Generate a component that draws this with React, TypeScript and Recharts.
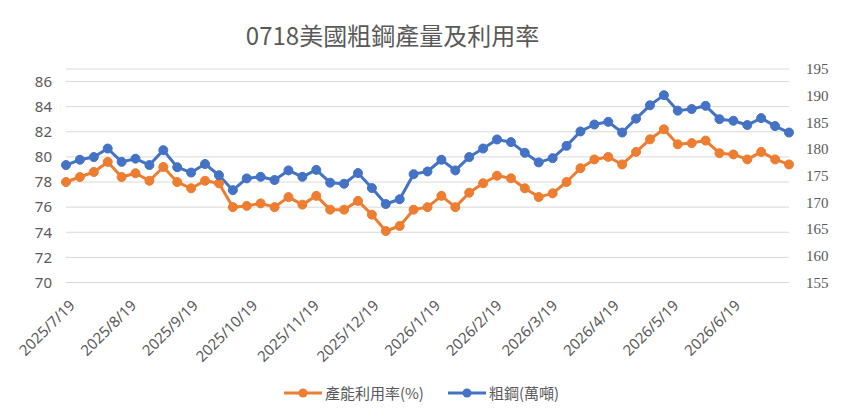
import React from 'react';
import { LineChart, Line, XAxis, YAxis, CartesianGrid, Legend } from 'recharts';

const dates = [
  '2025/7/19', '2025/7/26', '2025/8/2', '2025/8/9', '2025/8/16', '2025/8/23', '2025/8/30',
  '2025/9/6', '2025/9/13', '2025/9/20', '2025/9/27', '2025/10/4', '2025/10/11', '2025/10/18',
  '2025/10/25', '2025/11/1', '2025/11/8', '2025/11/15', '2025/11/22', '2025/11/29', '2025/12/6',
  '2025/12/13', '2025/12/20', '2025/12/27', '2026/1/3', '2026/1/10', '2026/1/17', '2026/1/24',
  '2026/1/31', '2026/2/7', '2026/2/14', '2026/2/21', '2026/2/28', '2026/3/7', '2026/3/14',
  '2026/3/21', '2026/3/28', '2026/4/4', '2026/4/11', '2026/4/18', '2026/4/25', '2026/5/2',
  '2026/5/9', '2026/5/16', '2026/5/23', '2026/5/30', '2026/6/6', '2026/6/13', '2026/6/20',
  '2026/6/27', '2026/7/4', '2026/7/11', '2026/7/18',
];

const utilization = [
  78.0, 78.4, 78.8, 79.6, 78.4, 78.7, 78.1, 79.2, 78.0, 77.5, 78.1, 77.9, 76.0, 76.1,
  76.3, 76.0, 76.8, 76.2, 76.9, 75.8, 75.8, 76.5, 75.4, 74.1, 74.5, 75.8, 76.0, 76.9,
  76.0, 77.15, 77.9, 78.5, 78.3, 77.5, 76.8, 77.1, 78.0, 79.1, 79.8, 80.0, 79.4, 80.4,
  81.4, 82.2, 81.0, 81.1, 81.3, 80.3, 80.2, 79.8, 80.4, 79.8, 79.4,
];

const crudeSteel = [
  177.0, 178.0, 178.5, 180.1, 177.6, 178.2, 177.0, 179.8, 176.6, 175.6, 177.2, 175.1, 172.3, 174.5,
  174.8, 174.2, 176.0, 174.8, 176.1, 173.7, 173.5, 175.5, 172.7, 169.7, 170.6, 175.3, 175.8, 178.0,
  176.0, 178.5, 180.1, 181.8, 181.3, 179.3, 177.5, 178.3, 180.6, 183.3, 184.6, 185.1, 183.1, 185.7,
  188.2, 190.1, 187.2, 187.5, 188.1, 185.6, 185.3, 184.5, 185.8, 184.3, 183.1,
];

const monthTicks = [
  '2025/7/19', '2025/8/19', '2025/9/19', '2025/10/19', '2025/11/19', '2025/12/19',
  '2026/1/19', '2026/2/19', '2026/3/19', '2026/4/19', '2026/5/19', '2026/6/19',
];

const leftTicks = [70, 72, 74, 76, 78, 80, 82, 84, 86];
const rightTicks = [155, 160, 165, 170, 175, 180, 185, 190, 195];

const titleText = '0718美國粗鋼產量及利用率';
const utilName = '產能利用率(%)';
const steelName = '粗鋼(萬噸)';

const ORANGE = '#ED7D31';
const BLUE = '#4472C4';
const TEXT = '#595959';

const toDay = (s: string) => {
  const [y, m, d] = s.split('/').map(Number);
  return Date.UTC(y, m - 1, d) / 86400000;
};

const data = dates.map((d, i) => ({
  t: toDay(d),
  date: d,
  util: utilization[i],
  steel: crudeSteel[i],
}));

const tickValues = monthTicks.map(toDay);
const tickLabel: Record<number, string> = {};
monthTicks.forEach((m) => {
  tickLabel[toDay(m)] = m;
});

const DateTick = (props: any) => {
  const { x, y, payload } = props;
  const ax = x + 7;
  const ay = y + 21;
  return (
    <text
      x={ax}
      y={ay}
      transform={`rotate(-45 ${ax} ${ay})`}
      textAnchor="end"
      dominantBaseline="middle"
      fill={TEXT}
      fontSize={15}
      fontFamily="'Noto Sans', sans-serif"
    >
      {tickLabel[payload.value] ?? ''}
    </text>
  );
};

const LegendIcon = ({ color }: { color: string }) => (
  <svg width={38} height={12} style={{ display: 'block' }}>
    <line x1={0} y1={6} x2={38} y2={6} stroke={color} strokeWidth={3} />
    <circle cx={19} cy={6} r={4.5} fill={color} />
  </svg>
);

const renderLegend = () => (
  <div
    style={{
      display: 'flex',
      justifyContent: 'center',
      alignItems: 'center',
      fontFamily: "'Noto Sans CJK TC', sans-serif",
      fontSize: 15,
      color: TEXT,
      lineHeight: '20px',
    }}
  >
    <div style={{ display: 'flex', alignItems: 'center', marginRight: 24 }}>
      <LegendIcon color={ORANGE} />
      <span style={{ marginLeft: 3 }}>{utilName}</span>
    </div>
    <div style={{ display: 'flex', alignItems: 'center' }}>
      <LegendIcon color={BLUE} />
      <span style={{ marginLeft: 3 }}>{steelName}</span>
    </div>
  </div>
);

export default function App() {
  return (
    <div
      style={{
        position: 'absolute',
        left: 0,
        top: 0,
        width: 843,
        height: 419,
        background: '#ffffff',
        overflow: 'hidden',
      }}
    >
      <div
        style={{
          position: 'absolute',
          left: 0,
          width: 785,
          top: 19,
          textAlign: 'center',
          fontFamily: "'Noto Sans CJK TC', sans-serif",
          fontSize: 24,
          lineHeight: '32px',
          color: TEXT,
        }}
      >
        {titleText}
      </div>
      <LineChart
        width={843}
        height={419}
        data={data}
        margin={{ top: 69, right: 0, left: 0, bottom: 36.5 }}
      >
        <CartesianGrid yAxisId="left" vertical={false} stroke="#D9D9D9" strokeWidth={1} />
        <XAxis
          dataKey="t"
          type="number"
          domain={[data[0].t, data[data.length - 1].t]}
          ticks={tickValues}
          interval={0}
          axisLine={false}
          tickLine={false}
          tickSize={0}
          tickMargin={0}
          height={100}
          tick={<DateTick />}
        />
        <YAxis
          yAxisId="left"
          domain={[70, 87]}
          ticks={leftTicks}
          interval={0}
          width={66}
          axisLine={false}
          tickLine={false}
          tickSize={0}
          tickMargin={14}
          tick={{ fill: TEXT, fontSize: 15, fontFamily: "'Noto Sans', sans-serif" }}
        />
        <YAxis
          yAxisId="right"
          orientation="right"
          domain={[155, 195]}
          ticks={rightTicks}
          interval={0}
          width={54}
          axisLine={false}
          tickLine={false}
          tickSize={0}
          tickMargin={17}
          tick={{ fill: TEXT, fontSize: 15, fontFamily: "'Liberation Serif', serif" }}
        />
        <Legend
          verticalAlign="middle"
          layout="horizontal"
          align="center"
          wrapperStyle={{ top: 383, left: 0, width: 843 }}
          content={renderLegend}
        />
        <Line
          yAxisId="left"
          type="linear"
          dataKey="util"
          name={utilName}
          stroke={ORANGE}
          strokeWidth={3}
          strokeLinejoin="round"
          dot={{ r: 4.5, fill: ORANGE, stroke: ORANGE, strokeWidth: 1 }}
          activeDot={false}
          isAnimationActive={false}
        />
        <Line
          yAxisId="right"
          type="linear"
          dataKey="steel"
          name={steelName}
          stroke={BLUE}
          strokeWidth={3}
          strokeLinejoin="round"
          dot={{ r: 4.5, fill: BLUE, stroke: BLUE, strokeWidth: 1 }}
          activeDot={false}
          isAnimationActive={false}
        />
      </LineChart>
    </div>
  );
}
